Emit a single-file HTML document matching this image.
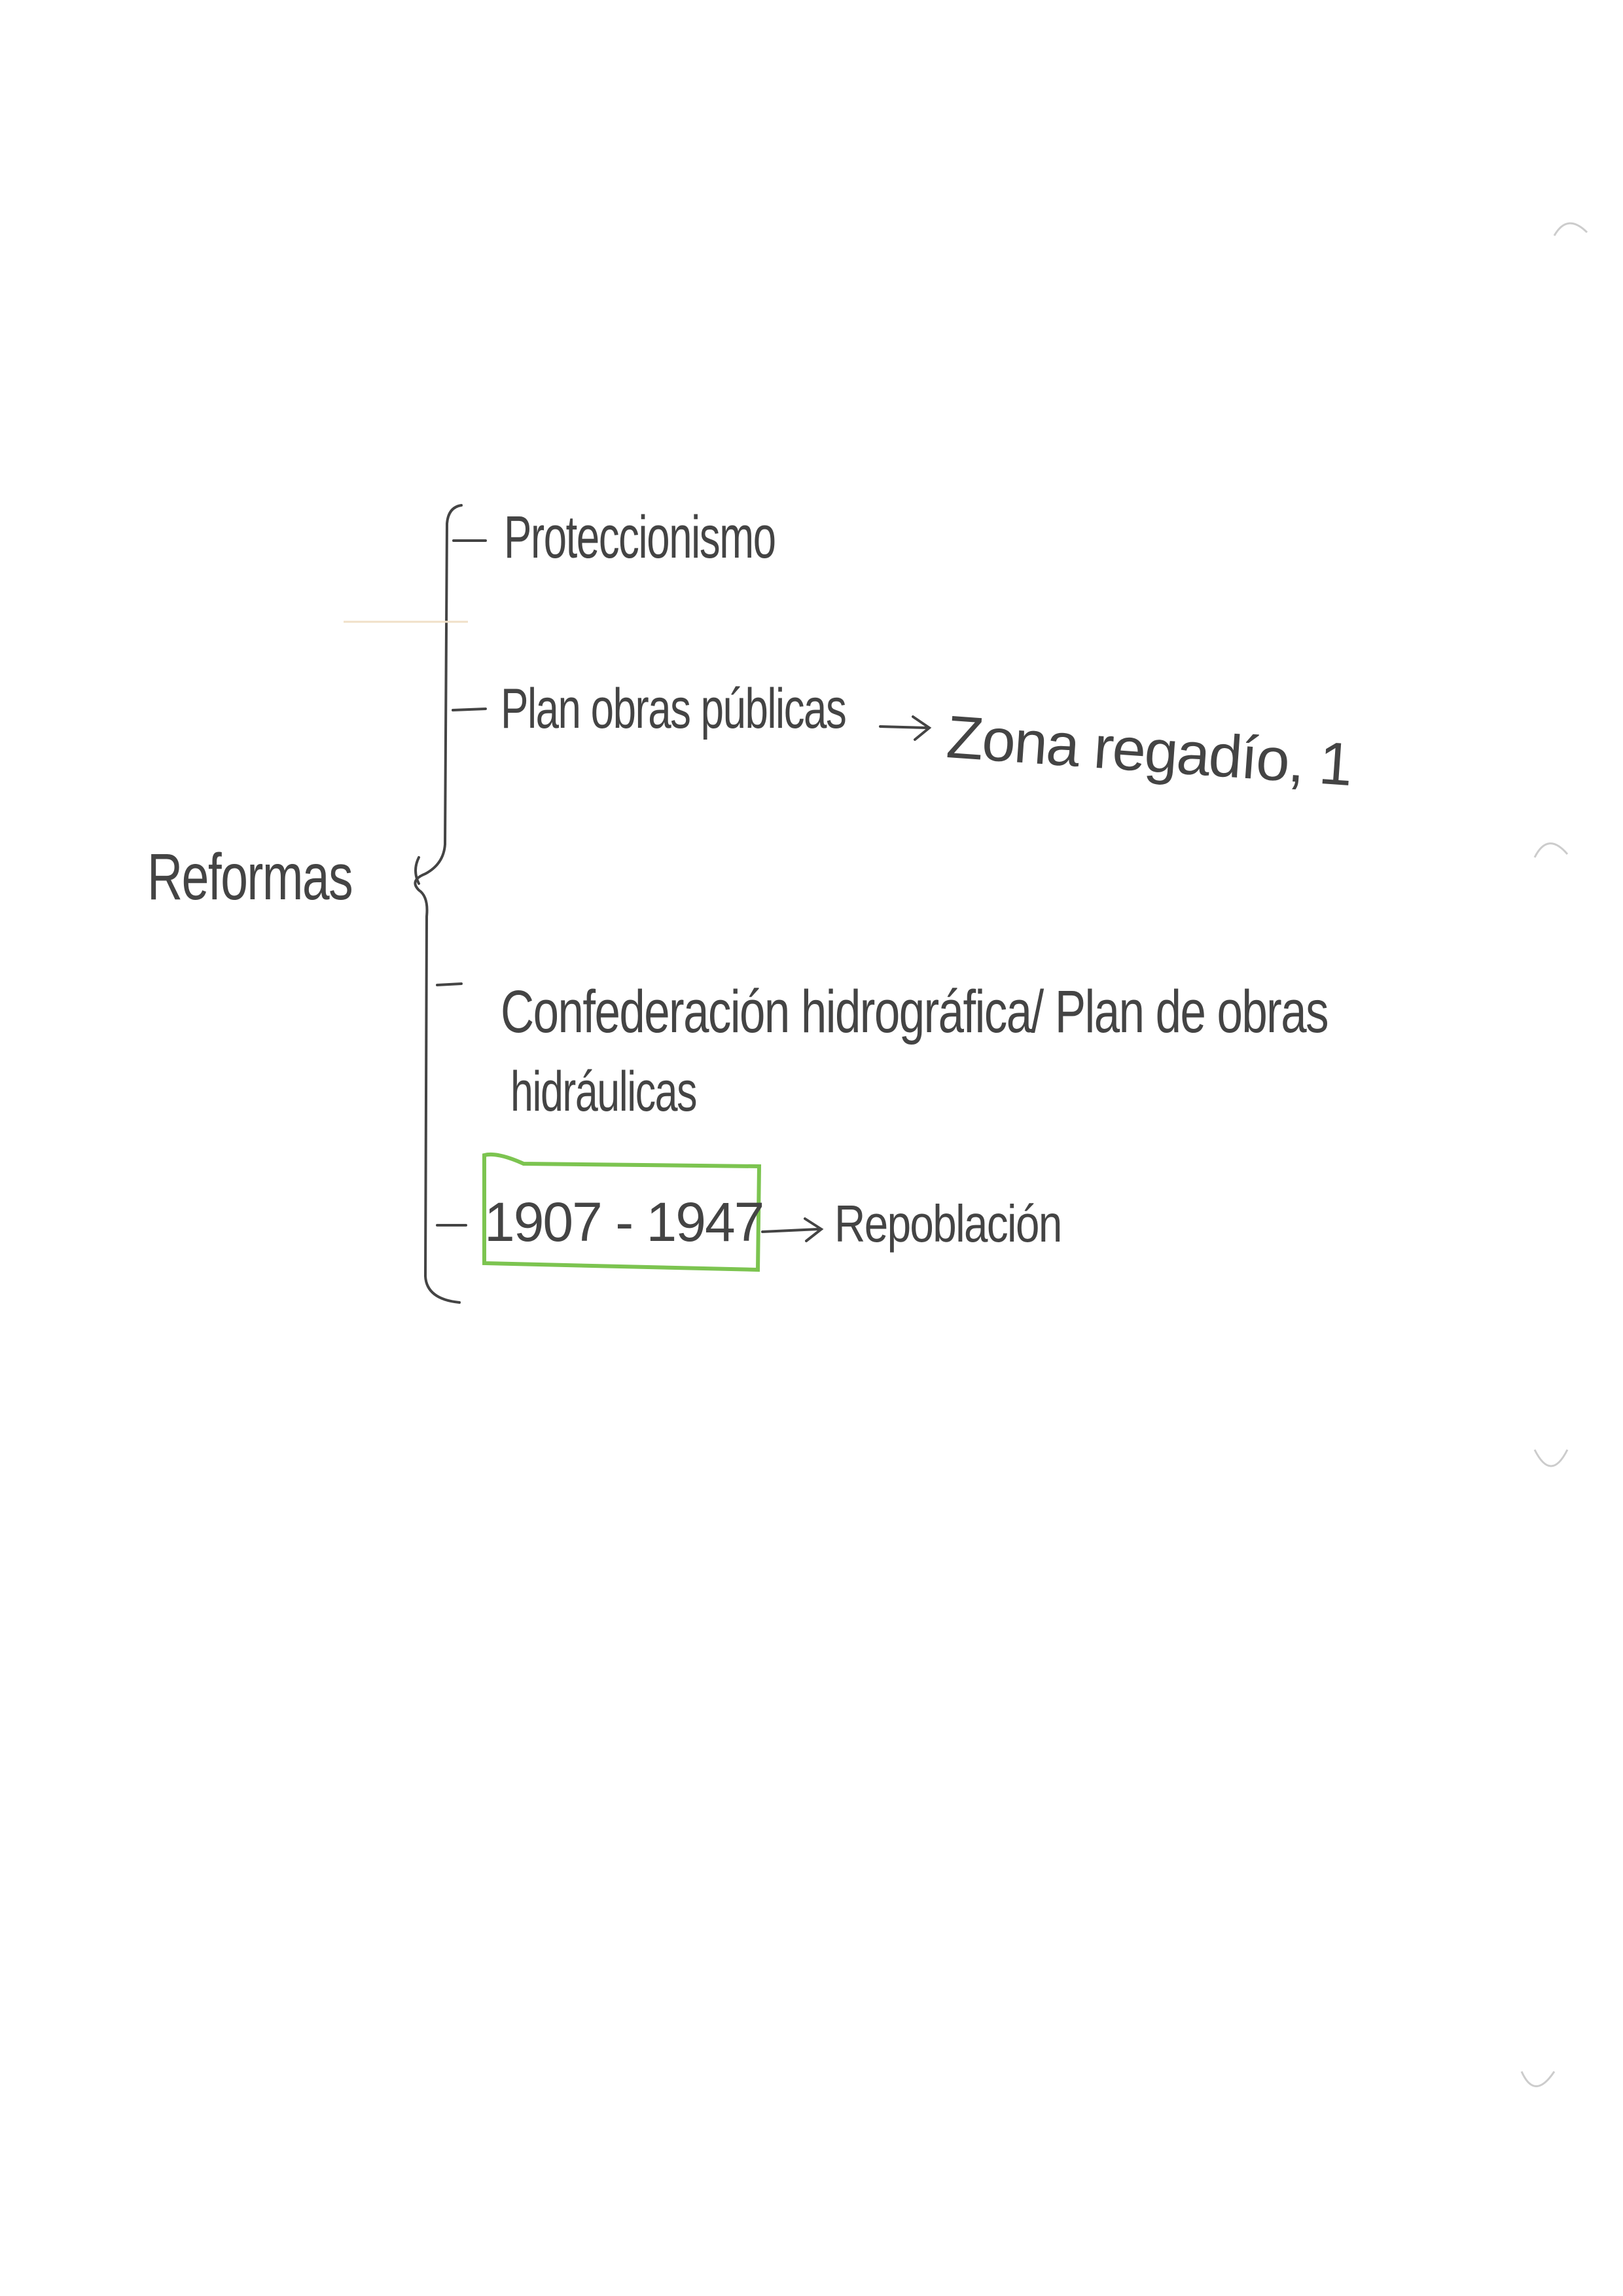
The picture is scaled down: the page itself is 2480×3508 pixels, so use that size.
<!DOCTYPE html>
<html><head><meta charset="utf-8"><style>
html,body{margin:0;padding:0;background:#fff;}
body{width:2480px;height:3508px;position:relative;overflow:hidden;font-family:"Liberation Sans",sans-serif;color:#444;}
.t{position:absolute;white-space:nowrap;font-size:86px;line-height:1;letter-spacing:-2px;transform-origin:left top;}
</style></head><body>
<svg width="2480" height="3508" style="position:absolute;left:0;top:0">
 <g fill="none" stroke="#444" stroke-width="4" stroke-linecap="round">
  <path d="M705 772 Q685 775 683 800 L680 1290 Q678 1320 650 1335 Q625 1345 640 1360 Q655 1370 652 1400 L650 1950 Q652 1985 702 1990"/>
  <path d="M640 1310 Q630 1330 640 1350"/>
  <line x1="693" y1="826" x2="742" y2="826"/>
  <line x1="692" y1="1085" x2="742" y2="1083"/>
  <line x1="668" y1="1505" x2="705" y2="1503"/>
  <line x1="668" y1="1872" x2="712" y2="1872"/>
  <path d="M1345 1110 L1415 1112 M1395 1095 L1420 1112 L1398 1130"/>
  <path d="M1165 1882 L1250 1878 M1230 1862 L1255 1878 L1232 1896"/>
 </g>
 <path d="M740 1765 Q760 1760 800 1778 L1160 1782 L1158 1940 L740 1930 Z" fill="none" stroke="#7cc450" stroke-width="6"/>
 <line x1="525" y1="950" x2="715" y2="950" stroke="#f0e0c8" stroke-width="3"/>
 <g fill="none" stroke="#ccc" stroke-width="3">
  <path d="M2375 360 Q2395 325 2425 355"/>
  <path d="M2345 1310 Q2365 1270 2395 1305"/>
  <path d="M2345 2215 Q2370 2265 2395 2215"/>
  <path d="M2325 3165 Q2345 3210 2375 3165"/>
 </g>
</svg>
<div class="t" style="left:225px;top:1290px;font-size:100px;transform:scaleX(0.75);">Reformas</div>
<div class="t" style="left:770px;top:775px;font-size:92px;transform:scaleX(0.69);">Proteccionismo</div>
<div class="t" style="left:765px;top:1040px;transform:scaleX(0.74);">Plan obras públicas</div>
<div class="t" style="left:1450px;top:1080px;transform:rotate(4deg);font-size:92px;">Zona regadío, 1</div>
<div class="t" style="left:765px;top:1500px;font-size:92px;transform:scaleX(0.77);">Confederación hidrográfica/ Plan de obras</div>
<div class="t" style="left:780px;top:1625px;transform:scaleX(0.73);">hidráulicas</div>
<div class="t" style="left:740px;top:1825px;font-size:84px;">1907 - 1947</div>
<div class="t" style="left:1275px;top:1830px;font-size:80px;transform:scaleX(0.82);">Repoblación</div>
</body></html>
